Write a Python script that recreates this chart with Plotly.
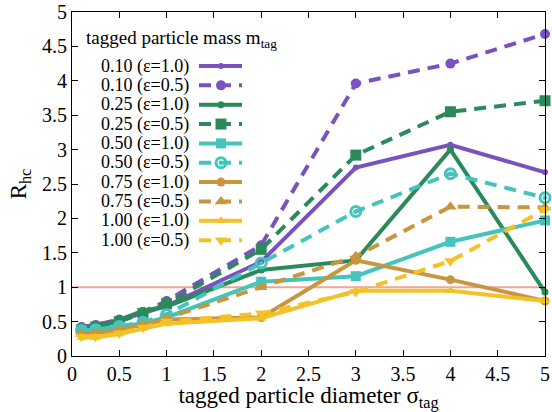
import plotly.graph_objects as go

# ---------------- data ----------------
sigma_tag = [0.1, 0.25, 0.5, 0.75, 1.0, 2.0, 3.0, 4.0, 5.0]

m010_e10 = [0.42, 0.45, 0.52, 0.62, 0.73, 1.37, 2.74, 3.07, 2.67]
m010_e05 = [0.42, 0.45, 0.53, 0.64, 0.80, 1.61, 3.96, 4.25, 4.68]
m025_e10 = [0.38, 0.42, 0.52, 0.66, 0.72, 1.25, 1.39, 3.00, 0.93]
m025_e05 = [0.38, 0.42, 0.50, 0.62, 0.76, 1.55, 2.92, 3.55, 3.71]
m050_e10 = [0.37, 0.38, 0.42, 0.48, 0.56, 1.08, 1.16, 1.66, 1.97]
m050_e05 = [0.37, 0.38, 0.43, 0.49, 0.60, 1.35, 2.10, 2.65, 2.30]
m075_e10 = [0.32, 0.33, 0.38, 0.45, 0.53, 0.56, 1.39, 1.11, 0.80]
m075_e05 = [0.32, 0.33, 0.38, 0.45, 0.55, 1.00, 1.45, 2.17, 2.16]
m100_e10 = [0.27, 0.27, 0.32, 0.40, 0.47, 0.55, 0.95, 0.95, 0.80]
m100_e05 = [0.28, 0.28, 0.33, 0.41, 0.50, 0.62, 0.93, 1.38, 2.13]

series_labels = ["0.10 (\u03b5=1.0)", "0.10 (\u03b5=0.5)",
                 "0.25 (\u03b5=1.0)", "0.25 (\u03b5=0.5)",
                 "0.50 (\u03b5=1.0)", "0.50 (\u03b5=0.5)",
                 "0.75 (\u03b5=1.0)", "0.75 (\u03b5=0.5)",
                 "1.00 (\u03b5=1.0)", "1.00 (\u03b5=0.5)"]
series_values = [m010_e10, m010_e05, m025_e10, m025_e05, m050_e10,
                 m050_e05, m075_e10, m075_e05, m100_e10, m100_e05]

reference_level = 1.0

tick_vals = [0, 0.5, 1, 1.5, 2, 2.5, 3, 3.5, 4, 4.5, 5]
tick_text = ["0", "0.5", "1", "1.5", "2", "2.5", "3", "3.5", "4", "4.5", "5"]

# ---------------- styles ----------------
PURPLE = "#7a52c0"
GREEN = "#2a8a5a"
CYAN = "#45c3bd"
TAN = "#c8963e"
YELLOW = "#f2c228"

colors = [PURPLE, PURPLE, GREEN, GREEN, CYAN, CYAN, TAN, TAN, YELLOW, YELLOW]
dashes = ["solid", "12px,8px"] * 5
symbols = ["circle", "circle", "circle", "square", "square",
           "circle-open-dot", "circle", "triangle-up", "triangle-up", "triangle-down"]
msizes = [6, 10, 7, 11, 10, 10, 9, 11, 9, 11]

FONT = "Liberation Serif, Times New Roman, serif"

fig = go.Figure()

for vals, col, dsh, sym, ms in zip(series_values, colors, dashes, symbols, msizes):
    mk = dict(symbol=sym, size=ms, color=col)
    if sym.endswith("open-dot"):
        mk["line"] = dict(color=col, width=3)
    fig.add_trace(go.Scatter(
        x=sigma_tag, y=vals, mode="lines+markers",
        line=dict(color=col, width=4, dash=dsh),
        marker=mk, showlegend=False, hoverinfo="skip", cliponaxis=False))

# reference line at R_hc = 1
fig.add_shape(type="line", xref="paper", x0=0, x1=1, yref="y",
              y0=reference_level, y1=reference_level,
              line=dict(color="#f4a394", width=2), layer="below")

# ---------------- custom legend (gnuplot style: text then sample) ----------------
L, R, T, B = 72, 545, 12, 356
W, H = R - L, B - T

def px(xp):
    return (xp - L) / W

def py(yp):
    return 1 - (yp - T) / H

fig.add_annotation(xref="paper", yref="paper", x=px(84), y=py(39),
                   xanchor="left", yanchor="middle", showarrow=False,
                   text="tagged particle mass m<sub>tag</sub>",
                   font=dict(family=FONT, size=19, color="black"))

leg_x, leg_y = [], []
for i, (lab, col, dsh) in enumerate(zip(series_labels, colors, dashes)):
    yrow = 66 + 19.35 * i
    fig.add_annotation(xref="paper", yref="paper", x=px(191), y=py(yrow),
                       xanchor="right", yanchor="middle", showarrow=False,
                       text=lab, font=dict(family=FONT, size=18, color="black"))
    fig.add_shape(type="line", xref="paper", yref="paper",
                  x0=px(199), x1=px(242), y0=py(yrow), y1=py(yrow),
                  line=dict(color=col, width=4, dash=dsh))
    leg_x.append(px(221))
    leg_y.append(py(yrow))

for xx, yy, col, sym, ms in zip(leg_x, leg_y, colors, symbols, msizes):
    mk = dict(symbol=sym, size=ms, color=col)
    if sym.endswith("open-dot"):
        mk["line"] = dict(color=col, width=3)
    fig.add_trace(go.Scatter(x=[xx], y=[yy], mode="markers", marker=mk,
                             xaxis="x2", yaxis="y2", showlegend=False,
                             hoverinfo="skip", cliponaxis=False))

axis_common = dict(
    showline=True, linecolor="black", linewidth=1, mirror="ticks",
    ticks="inside", ticklen=6, tickcolor="black", showgrid=False,
    zeroline=False, automargin=False,
    tickfont=dict(family=FONT, size=20, color="black"),
)

fig.update_layout(
    width=552, height=412, autosize=False,
    font=dict(family=FONT, color="black"),
    margin=dict(l=L, r=552 - R, t=T, b=412 - B, pad=0),
    paper_bgcolor="white", plot_bgcolor="white",
    xaxis=dict(range=[0, 5], tickvals=tick_vals, ticktext=tick_text,
               title=dict(text="tagged particle diameter \u03c3<sub>tag</sub>",
                          font=dict(family=FONT, size=23, color="black"),
                          standoff=0),
               **axis_common),
    yaxis=dict(range=[0, 5], tickvals=tick_vals, ticktext=tick_text,
               title=dict(text="R<sub>hc</sub>",
                          font=dict(family=FONT, size=23, color="black"),
                          standoff=8),
               **axis_common),
    xaxis2=dict(range=[0, 1], overlaying="x", visible=False, fixedrange=True),
    yaxis2=dict(range=[0, 1], overlaying="y", visible=False, fixedrange=True),
)

fig.write_html("out.html", config={"displayModeBar": False},
               post_script="document.body.style.margin='0';document.body.style.padding='0';")
